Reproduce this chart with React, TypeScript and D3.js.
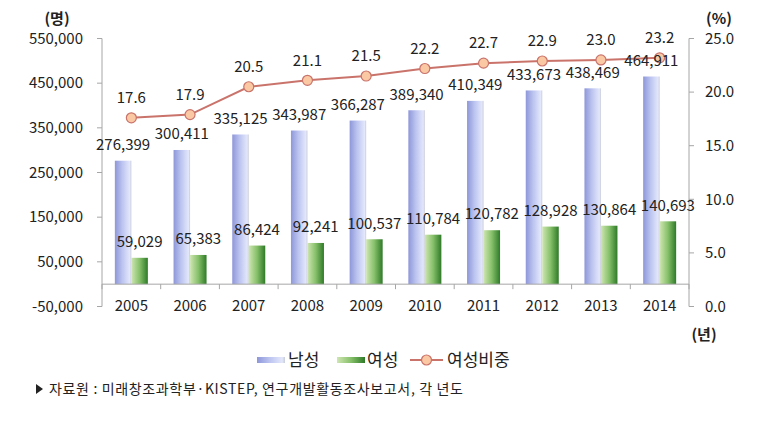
import React from "react";
import * as d3 from "d3";

const years = ["2005", "2006", "2007", "2008", "2009", "2010", "2011", "2012", "2013", "2014"];
const male = [276399, 300411, 335125, 343987, 366287, 389340, 410349, 433673, 438469, 464911];
const female = [59029, 65383, 86424, 92241, 100537, 110784, 120782, 128928, 130864, 140693];
const ratio = [17.6, 17.9, 20.5, 21.1, 21.5, 22.2, 22.7, 22.9, 23.0, 23.2];
const leftTicks = [-50000, 50000, 150000, 250000, 350000, 450000, 550000];
const rightTicks = [0, 5, 10, 15, 20, 25];

const FONT = "'Noto Sans CJK KR', 'Noto Sans', sans-serif";

export default function App() {
  const W = 775, H = 422;
  const x0 = 102, x1 = 689, yTop = 38.5, yBot = 306.5;
  const x = d3.scaleBand().domain(years).range([x0, x1]).paddingInner(0).paddingOuter(0);
  const yL = d3.scaleLinear().domain([-50000, 550000]).range([yBot, yTop]);
  const yR = d3.scaleLinear().domain([0, 25]).range([yBot, yTop]);
  const bw = 16.5;
  const f = d3.format(",");
  const fmt = (v: number) => f(v).replace("\u2212", "-");
  const line = d3.line<number>().x((_, i) => x(years[i])! + x.bandwidth() / 2).y((d) => yR(d));
  const axisColor = "#a6a6a6";
  const base = yL(0);
  const fs = 15;

  return (
    <svg width={W} height={H} style={{ position: "absolute", left: 0, top: 0, background: "#fff" }} fontFamily={FONT}>
      <defs>
        <linearGradient id="gm" x1="0" x2="1" y1="0" y2="0">
          <stop offset="0" stopColor="#8e97d9" />
          <stop offset="0.45" stopColor="#bcc4f0" />
          <stop offset="0.9" stopColor="#e3e7fb" />
          <stop offset="1" stopColor="#c9ccd8" />
        </linearGradient>
        <linearGradient id="gf" x1="0" x2="1" y1="0" y2="0">
          <stop offset="0" stopColor="#cfe6b2" />
          <stop offset="0.5" stopColor="#86c06a" />
          <stop offset="1" stopColor="#2e7a28" />
        </linearGradient>
      </defs>
      {/* bars */}
      {years.map((yr, i) => {
        const cx = x(yr)! + x.bandwidth() / 2;
        return (
          <g key={yr}>
            <rect x={cx - bw} y={yL(male[i])} width={bw} height={base - yL(male[i])} fill="url(#gm)" />
            <rect x={cx} y={yL(female[i])} width={bw} height={base - yL(female[i])} fill="url(#gf)" />
          </g>
        );
      })}
      {/* axes */}
      <line x1={x0} x2={x0} y1={yTop} y2={yBot} stroke={axisColor} />
      <line x1={x1} x2={x1} y1={yTop} y2={yBot} stroke={axisColor} />
      <line x1={x0} x2={x1} y1={base} y2={base} stroke={axisColor} />
      {leftTicks.map((t) => (
        <g key={t}>
          <line x1={x0 - 5} x2={x0} y1={yL(t)} y2={yL(t)} stroke={axisColor} />
          <text x={83} y={yL(t)} dy="0.35em" textAnchor="end" fontSize={fs} fill="#222">{fmt(t)}</text>
        </g>
      ))}
      {rightTicks.map((t) => (
        <g key={t}>
          <line x1={x1} x2={x1 + 5} y1={yR(t)} y2={yR(t)} stroke={axisColor} />
          <text x={705} y={yR(t)} dy="0.35em" textAnchor="start" fontSize={fs} fill="#222">{t.toFixed(1)}</text>
        </g>
      ))}
      {years.map((yr, i) => (
        <g key={"xt" + yr}>
          <line x1={x(yr)!} x2={x(yr)!} y1={base} y2={base + 5} stroke={axisColor} />
          {i === years.length - 1 && <line x1={x1} x2={x1} y1={base} y2={base + 5} stroke={axisColor} />}
          <text x={x(yr)! + x.bandwidth() / 2} y={306} dy="0.35em" textAnchor="middle" fontSize={fs} fill="#222">{yr}</text>
        </g>
      ))}
      {/* line */}
      <path d={line(ratio)!} fill="none" stroke="#c9736b" strokeWidth={2} />
      {ratio.map((v, i) => (
        <circle key={"c" + i} cx={x(years[i])! + x.bandwidth() / 2} cy={yR(v)} r={5} fill="#fbc8a4" stroke="#c9736b" strokeWidth={1.2} />
      ))}
      {/* labels */}
      {years.map((yr, i) => {
        const cx = x(yr)! + x.bandwidth() / 2;
        return (
          <g key={"l" + yr} fontSize={fs} fill="#222">
            <text x={cx - bw / 2} y={yL(male[i]) - 16} dy="0.35em" textAnchor="middle">{fmt(male[i])}</text>
            <text x={cx + bw / 2} y={yL(female[i]) - 16} dy="0.35em" textAnchor="middle">{fmt(female[i])}</text>
            <text x={cx} y={yR(ratio[i]) - 20} dy="0.35em" textAnchor="middle">{ratio[i].toFixed(1)}</text>
          </g>
        );
      })}
      {/* units */}
      <text x={57} y={19} dy="0.35em" textAnchor="middle" fontSize={15} fontWeight="bold" fill="#222">(명)</text>
      <text x={719} y={19} dy="0.35em" textAnchor="middle" fontSize={15} fontWeight="bold" fill="#222">(%)</text>
      <text x={704} y={335} dy="0.35em" textAnchor="middle" fontSize={15} fontWeight="bold" fill="#222">(년)</text>
      {/* legend */}
      <g fontSize={17} fill="#222">
        <rect x={257} y={357} width={28} height={6} fill="url(#gm)" />
        <text x={288} y={360} dy="0.35em">남성</text>
        <rect x={337} y={357} width={28} height={6} fill="url(#gf)" />
        <text x={367} y={360} dy="0.35em">여성</text>
        <line x1={410} x2={443} y1={360} y2={360} stroke="#c9736b" strokeWidth={2} />
        <circle cx={426.5} cy={360} r={5} fill="#fbc8a4" stroke="#c9736b" strokeWidth={1.2} />
        <text x={447} y={360} dy="0.35em">여성비중</text>
      </g>
      {/* footnote */}
      <path d="M36,384 L43,389 L36,394 Z" fill="#222" />
      <text x={49} y={389} dy="0.35em" fontSize={14} letterSpacing={0.65} fill="#222">자료원 : 미래창조과학부·KISTEP, 연구개발활동조사보고서, 각 년도</text>
    </svg>
  );
}
